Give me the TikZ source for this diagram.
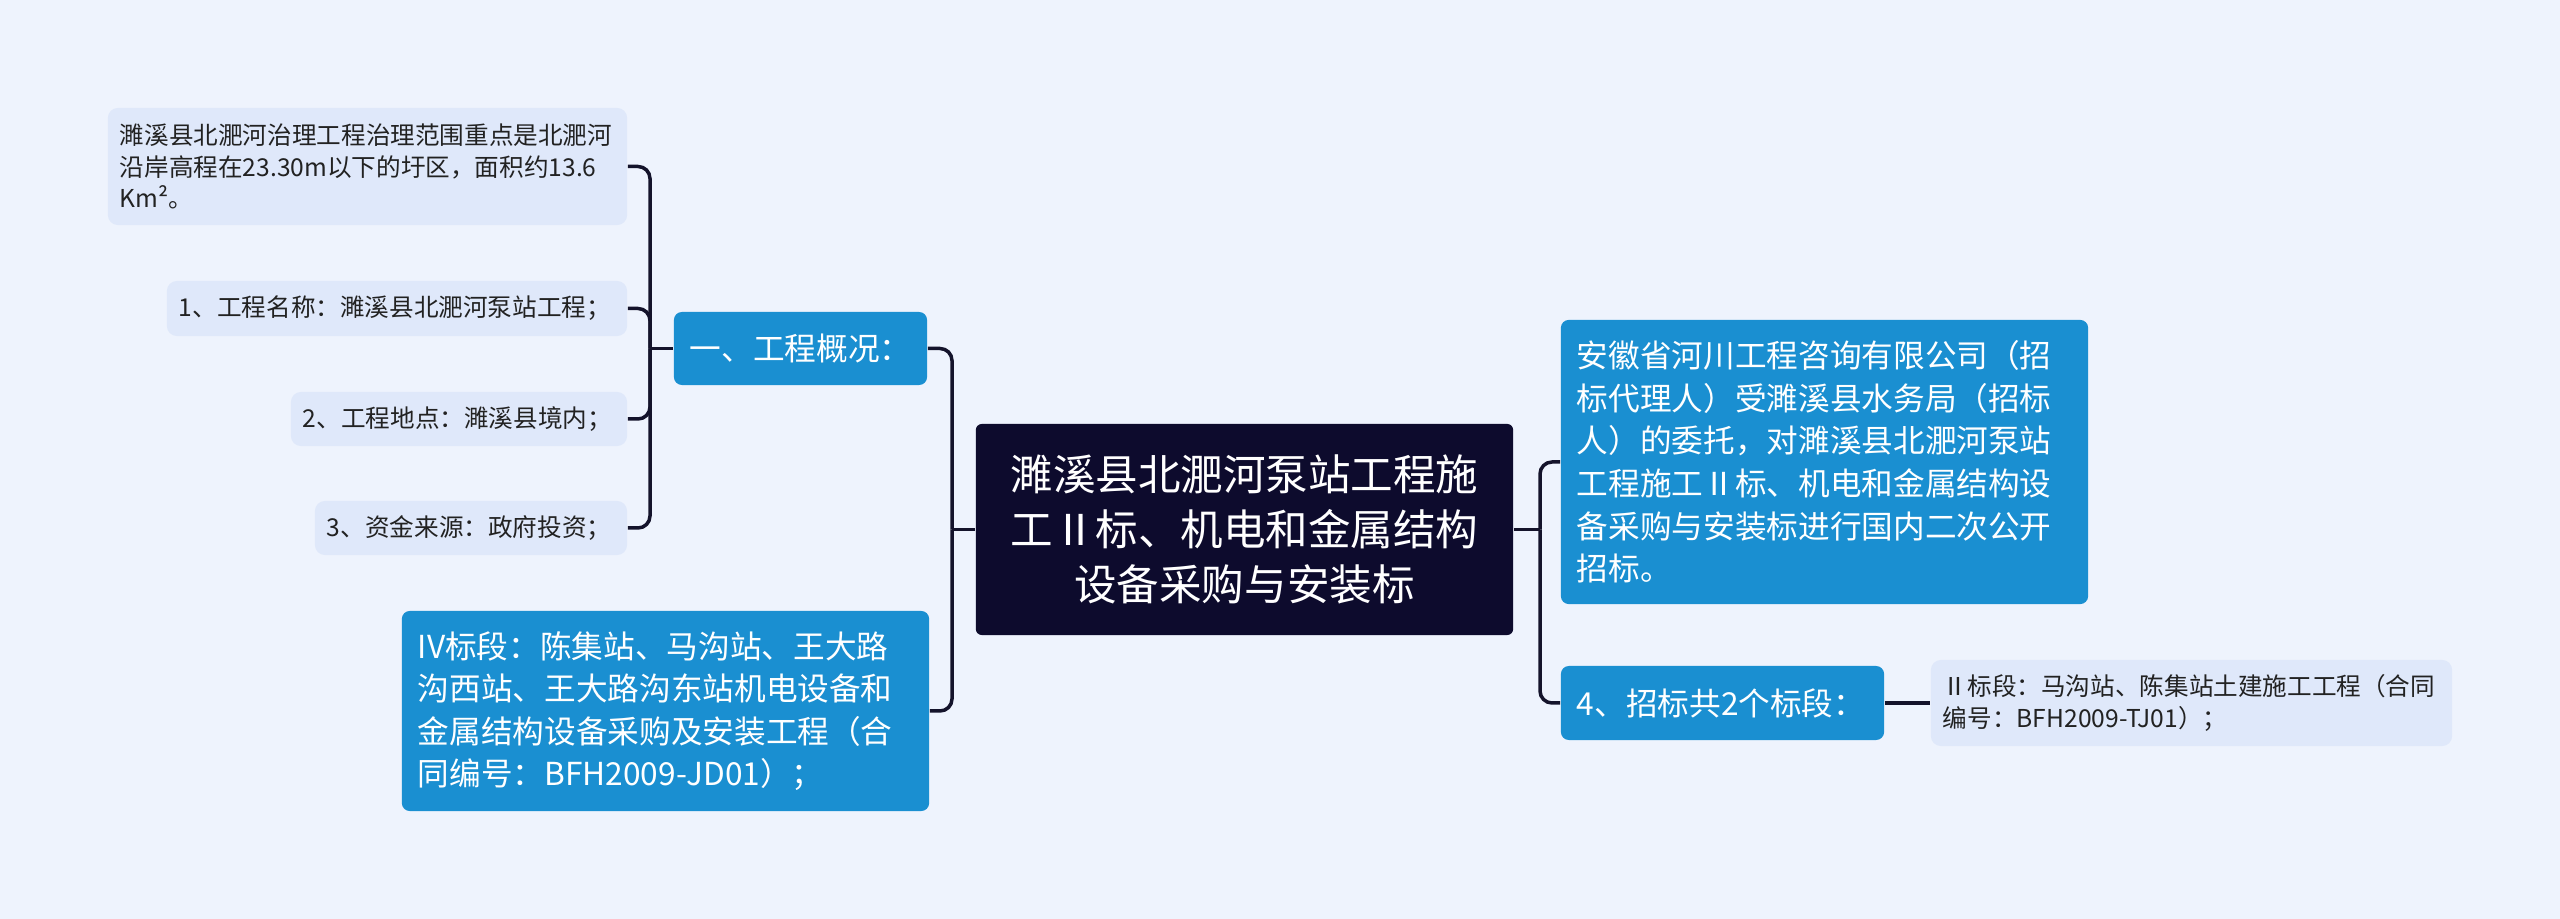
\documentclass[tikz,border=0pt]{standalone}
\usepackage{fontspec}
\setmainfont{Noto Sans CJK SC}

\definecolor{bgc}{HTML}{EEF3FD}
\definecolor{leafc}{HTML}{DFE8FA}
\definecolor{topicc}{HTML}{1A8FD1}
\definecolor{rootc}{HTML}{0D0B2D}
\definecolor{linec}{HTML}{14132B}
\definecolor{textc}{HTML}{222222}

\tikzset{
  box/.style={rectangle, inner ysep=0pt, align=left},
  root/.style={box, fill=rootc, text=white, align=center, rounded corners=0.06cm, inner xsep=0.16cm,
    font=\fontsize{12.1}{15.6}\selectfont},
  topic/.style={box, fill=topicc, text=white, rounded corners=0.08cm, inner xsep=0.16cm,
    font=\fontsize{9.0}{12.1}\selectfont},
  leaf/.style={box, fill=leafc, text=textc, rounded corners=0.1cm, inner xsep=0.12cm,
    font=\fontsize{7.0}{9.05}\selectfont},
  link/.style={draw=linec, line width=0.035cm, rounded corners=0.12cm},
}

\begin{document}
\begin{tikzpicture}[x=0.01cm, y=-0.01cm]
\fill[bgc] (0,0) rectangle (2560,919);
\useasboundingbox (0,0) rectangle (2560,919);

% centre
\node[root, text width=5.05cm, minimum height=2.11cm] (root) at (1244.5,529.5)
  {濉溪县北淝河泵站工程施\\工Ⅱ标、机电和金属结构\\设备采购与安装标};

% left side
\node[topic, text width=2.21cm, minimum height=0.73cm] (gen) at (800.5,348.5) {一、工程概况：};
\node[topic, text width=4.95cm, minimum height=2.00cm] (lot4) at (665.5,711)
  {IV标段：陈集站、马沟站、王大路\\沟西站、王大路沟东站机电设备和\\金属结构设备采购及安装工程（合\\同编号：BFH2009-JD01）；};

\node[leaf, text width=4.95cm, minimum height=1.17cm] (desc) at (367.5,166.5)
  {濉溪县北淝河治理工程治理范围重点是北淝河\\沿岸高程在23.30m以下的圩区，面积约13.6\\Km²。};
\node[leaf, text width=4.36cm, minimum height=0.55cm] (name) at (397,308.5) {1、工程名称：濉溪县北淝河泵站工程；};
\node[leaf, text width=3.12cm, minimum height=0.54cm] (site) at (459,419) {2、工程地点：濉溪县境内；};
\node[leaf, text width=2.88cm, minimum height=0.54cm] (fund) at (471,528) {3、资金来源：政府投资；};

% right side
\node[topic, text width=4.95cm, minimum height=2.84cm] (agent) at (1824.5,462)
  {安徽省河川工程咨询有限公司（招\\标代理人）受濉溪县水务局（招标\\人）的委托，对濉溪县北淝河泵站\\工程施工Ⅱ标、机电和金属结构设\\备采购与安装标进行国内二次公开\\招标。};
\node[topic, text width=2.91cm, minimum height=0.74cm] (count) at (1722.5,703) {4、招标共2个标段：};
\node[leaf, text width=4.97cm, minimum height=0.86cm] (lot2) at (2191.5,703)
  {Ⅱ标段：马沟站、陈集站土建施工工程（合同\\编号：BFH2009-TJ01）；};

\coordinate (lbus) at (952,529.5);
\coordinate (gbus) at (650,348.5);
\coordinate (rbus) at (1540,529.5);

\draw[link] (root.west) -- (lbus);
\draw[link] (gen.east) -| (lbus);
\draw[link] (lot4.east) -| (lbus);

\draw[link] (gen.west) -- (gbus);
\foreach \n in {desc,name,site,fund}
  \draw[link] (\n.east) -| (gbus);

\draw[link] (root.east) -- (rbus);
\draw[link] (agent.west) -| (rbus);
\draw[link] (count.west) -| (rbus);
\draw[link] (count.east) -- (lot2.west);
\end{tikzpicture}
\end{document}
